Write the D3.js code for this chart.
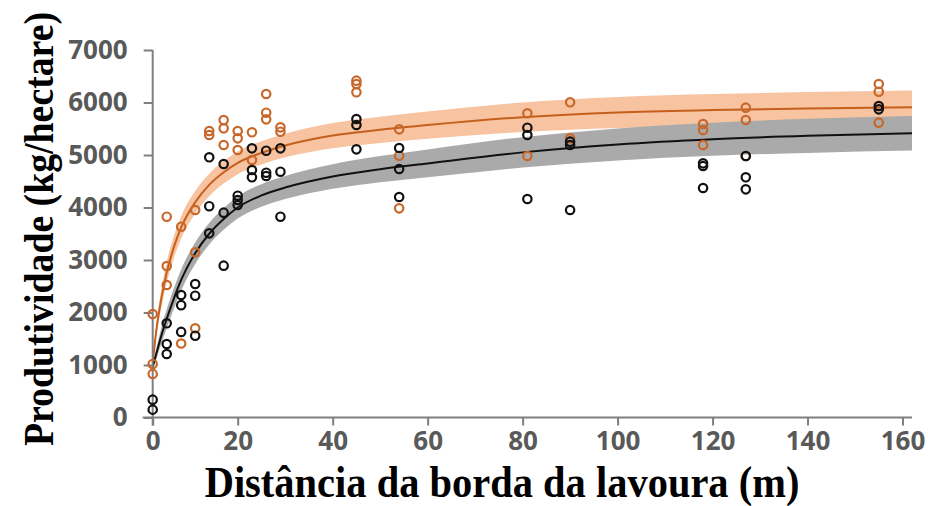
<!DOCTYPE html>
<html>
<head>
<meta charset="utf-8">
<script src="https://cdn.jsdelivr.net/npm/d3@7"></script>
<style>
  html, body { margin: 0; padding: 0; background: #fff; }
  svg { display: block; }
</style>
</head>
<body>
<svg id="chart" width="928" height="506"></svg>
<script>
// Tick values
const xTicks = [0, 20, 40, 60, 80, 100, 120, 140, 160];
const yTicks = [0, 1000, 2000, 3000, 4000, 5000, 6000, 7000];

// Observed yields, orange series (distance in m, yield in kg/ha)
const orangeX = [0, 0, 0, 3.3, 3.3, 3.3, 6.7, 6.7, 10, 10, 10, 13.3, 13.3,
  16.7, 16.7, 16.7, 20, 20, 20, 23, 23, 26, 26, 26, 29, 29,
  45, 45, 45, 54, 54, 54, 81, 81, 90, 90, 118, 118, 118, 127, 127, 127,
  155, 155, 155];
const orangeY = [1970, 1020, 830, 3825, 2886, 2524, 3634, 1410, 3952, 3146, 1698, 5457, 5381,
  5667, 5508, 5190, 5457, 5317, 5095, 5432, 4905, 6162, 5806, 5679, 5527, 5444,
  6416, 6352, 6194, 5489, 4987, 3984, 5794, 4981, 6004, 5317, 5590, 5476, 5190, 5902, 5667, 4981,
  6352, 6206, 5616];

// Observed yields, black series
const blackX = [0, 0, 3.3, 3.3, 3.3, 6.7, 6.7, 6.7, 10, 10, 10, 13.3, 13.3, 13.3,
  16.7, 16.7, 16.7, 20, 20, 20, 23, 23, 23, 26, 26, 26, 29, 29, 29,
  45, 45, 45, 54, 54, 54, 81, 81, 81, 90, 90, 90, 118, 118, 118, 127, 127, 127,
  155, 155];
const blackY = [340, 150, 1794, 1400, 1210, 2333, 2140, 1630, 2543, 2320, 1558, 4956, 4025, 3508,
  4829, 3902, 2892, 4225, 4143, 4048, 5127, 4714, 4575, 5082, 4663, 4600, 5127, 4682, 3825,
  5686, 5571, 5108, 5133, 4733, 4200, 5520, 5381, 4162, 5254, 5190, 3952, 4841, 4790, 4371, 4981, 4575, 4346,
  5933, 5870];

// Fitted response curves and their confidence half-widths
const fitX = [0, 1, 2, 3.3, 5, 6.7, 10, 13.3, 16.7, 20, 25, 30, 40, 50, 60, 80, 100, 120, 140, 162];
const fitOrange = [1040, 1750, 2250, 2760, 3250, 3620, 4100, 4430, 4670, 4850, 5040, 5180, 5370, 5480, 5570, 5720, 5810, 5855, 5885, 5910];
const fitBlack = [960, 1260, 1550, 1880, 2270, 2620, 3130, 3500, 3780, 4000, 4230, 4380, 4590, 4730, 4840, 5050, 5200, 5300, 5365, 5415];
const bandOrange = [60, 130, 170, 200, 210, 215, 215, 215, 215, 215, 220, 225, 240, 250, 260, 280, 295, 305, 315, 320];
const bandBlack = [50, 110, 150, 180, 195, 200, 205, 205, 205, 210, 215, 220, 235, 250, 265, 290, 305, 315, 325, 330];

const svg = d3.select("#chart");

const x = d3.scaleLinear().domain([0, 20, 162]).range([152.7, 237.7, 912]);
const y = d3.scaleLinear().domain([0, 7000]).range([417.5, 50]);

const axisColor = "#7f7f7f";
const labelColor = "#595959";

// Confidence bands
const area = (fit, band) => d3.area()
  .x((d, i) => x(fitX[i]))
  .y0((d, i) => y(fit[i] - band[i]))
  .y1((d, i) => y(fit[i] + band[i]))
  .curve(d3.curveMonotoneX)(fitX);

svg.append("path").attr("d", area(fitOrange, bandOrange))
  .attr("fill", "#f7c3a0");
svg.append("path").attr("d", area(fitBlack, bandBlack))
  .attr("fill", "#aaaaaa");

// Fitted lines
const line = fit => d3.line()
  .x((d, i) => x(fitX[i]))
  .y((d, i) => y(fit[i]))
  .curve(d3.curveMonotoneX)(fitX);

svg.append("path").attr("d", line(fitOrange))
  .attr("fill", "none").attr("stroke", "#c55f1c").attr("stroke-width", 2);
svg.append("path").attr("d", line(fitBlack))
  .attr("fill", "none").attr("stroke", "#111").attr("stroke-width", 2);

// Axes
const gx = svg.append("g").attr("transform", `translate(0,${y(0)})`)
  .call(d3.axisBottom(x).tickValues(xTicks).tickSize(8).tickPadding(6).tickFormat(d3.format("d")));
gx.select(".domain").remove();
gx.selectAll(".tick line").attr("stroke", axisColor).attr("stroke-width", 2);
gx.selectAll(".tick text")
  .attr("fill", labelColor)
  .attr("font-family", "'Open Sans', sans-serif")
  .attr("font-weight", "bold")
  .attr("font-size", 26);
svg.append("line")
  .attr("x1", x(0) - 10).attr("x2", x(162))
  .attr("y1", y(0)).attr("y2", y(0))
  .attr("stroke", axisColor).attr("stroke-width", 2);

const gy = svg.append("g").attr("transform", `translate(${x(0)},0)`)
  .call(d3.axisLeft(y).tickValues(yTicks).tickSize(9).tickPadding(16).tickFormat(d3.format("d")));
gy.select(".domain").remove();
gy.selectAll(".tick line").attr("stroke", axisColor).attr("stroke-width", 2);
gy.selectAll(".tick text")
  .attr("fill", labelColor)
  .attr("font-family", "'Open Sans', sans-serif")
  .attr("font-weight", "bold")
  .attr("font-size", 26);
svg.append("line")
  .attr("x1", x(0)).attr("x2", x(0))
  .attr("y1", y(0) + 8).attr("y2", y(7000))
  .attr("stroke", axisColor).attr("stroke-width", 2);

// Observations
svg.append("g").selectAll("circle").data(orangeX).join("circle")
  .attr("cx", (d, i) => x(d)).attr("cy", (d, i) => y(orangeY[i]))
  .attr("r", 4.2).attr("fill", "none")
  .attr("stroke", "#c8672a").attr("stroke-width", 2.2);
svg.append("g").selectAll("circle").data(blackX).join("circle")
  .attr("cx", (d, i) => x(d)).attr("cy", (d, i) => y(blackY[i]))
  .attr("r", 4.2).attr("fill", "none")
  .attr("stroke", "#111").attr("stroke-width", 2.2);

// Axis titles (set in a condensed bold serif)
svg.append("text")
  .attr("transform", "translate(502,497) scale(0.92,1)")
  .attr("text-anchor", "middle")
  .attr("font-family", "'Liberation Serif', 'Times New Roman', serif")
  .attr("font-weight", "bold").attr("font-size", 44)
  .text("Distância da borda da lavoura (m)");

svg.append("text")
  .attr("transform", "translate(53,229) rotate(-90) scale(0.9,1)")
  .attr("text-anchor", "middle")
  .attr("font-family", "'Liberation Serif', 'Times New Roman', serif")
  .attr("font-weight", "bold").attr("font-size", 42)
  .text("Produtividade (kg/hectare)");
</script>
</body>
</html>
